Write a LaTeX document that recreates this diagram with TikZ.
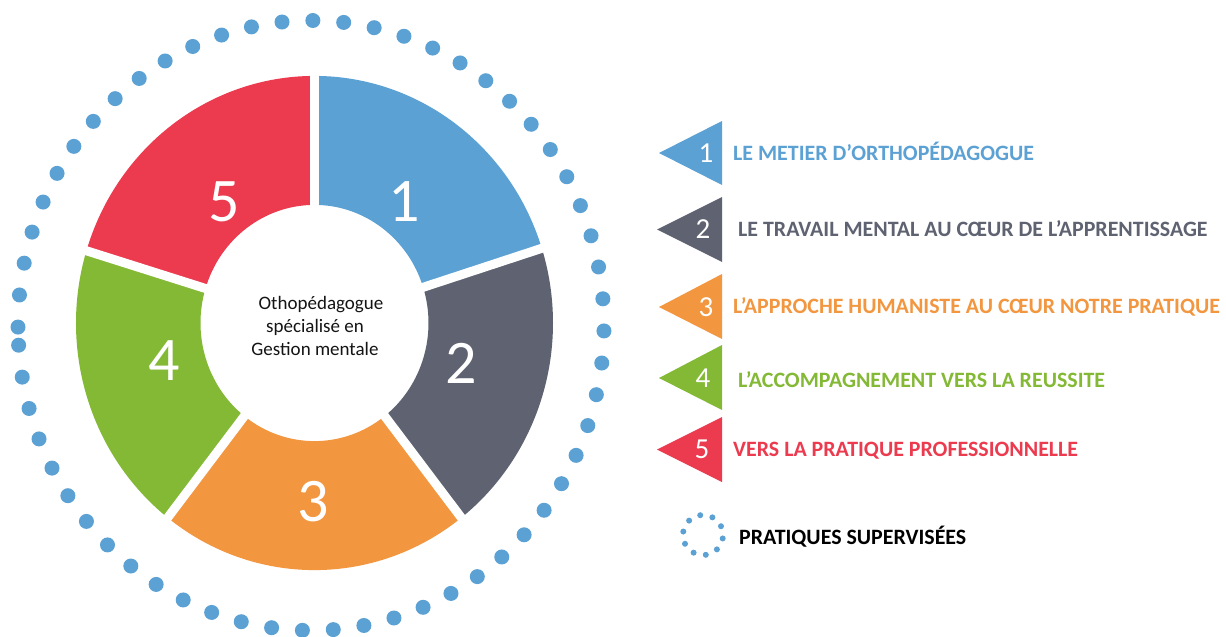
\documentclass[tikz,border=0pt]{standalone}
\usepackage{fontspec}
\setmainfont{Carlito}
\definecolor{cBlue}{RGB}{91,161,212}
\definecolor{cGray}{RGB}{94,98,113}
\definecolor{cOrange}{RGB}{242,150,64}
\definecolor{cGreen}{RGB}{132,185,53}
\definecolor{cRed}{RGB}{236,58,79}
\definecolor{cDot}{RGB}{91,161,212}
\definecolor{cText}{RGB}{20,20,20}
\def\donutseg#1#2#3{\fill[#3] (#1:114) arc[start angle=#1,end angle=#2,radius=114] -- (#2:238.5) arc[start angle=#2,end angle=#1,radius=238.5] -- cycle;}
\begin{document}
\begin{tikzpicture}[x=1pt,y=-1pt,
  segnum/.style={text=white,font=\fontsize{62}{62}\selectfont,inner sep=0pt},
  trinum/.style={text=white,font=\fontsize{29}{29}\selectfont,inner sep=0pt},
  itemtext/.style={anchor=west,font=\bfseries\fontsize{21.9}{22}\selectfont,inner sep=0pt,text height=14pt,text depth=0pt},
  ringdot/.style={fill=cDot},
  gapline/.style={draw=white,line width=9pt}
]
\useasboundingbox (0,0) rectangle (1226,637);
\fill[white] (0,0) rectangle (1226,637);

% dotted ring
\foreach \i in {0,...,59}{
  \pgfmathsetmacro\t{183.7+6.044*\i}
  \fill[ringdot] ({311+293*cos(\t)},{325.5-305*sin(\t)}) circle[radius=7.5pt];
}

% donut
\begin{scope}[shift={(314.5,323)},yscale=-1.036]
  \donutseg{17.6}{90}{cBlue}
  \donutseg{-52}{17.6}{cGray}
  \donutseg{-128}{-52}{cOrange}
  \donutseg{163}{232}{cGreen}
  \donutseg{90}{163}{cRed}
  \foreach \a in {90,17.6,-52,-128,163} \draw[gapline] (0,0) -- (\a:262);
\end{scope}

\node[align=center,font=\fontsize{19}{23}\selectfont,text=cText,inner sep=0pt] (center) at (315,326) {\hspace*{12pt}Othopédagogue\\spécialisé en\\Gestion mentale};

\node[segnum] (n1) at (404,202) {1};
\node[segnum] (n2) at (461,363) {2};
\node[segnum] (n3) at (313,502) {3};
\node[segnum] (n4) at (164,361) {4};
\node[segnum] (n5) at (224,202) {5};

% legend triangles
\fill[cBlue] (659,153) -- (722,121) -- (722,185) -- cycle;
\fill[cGray] (657,229.5) -- (722,197) -- (722,262) -- cycle;
\fill[cOrange] (659,307) -- (722,274) -- (722,339) -- cycle;
\fill[cGreen] (659,378) -- (722,345) -- (722,410) -- cycle;
\fill[cRed] (657,449.5) -- (722,417) -- (722,482) -- cycle;

\node[trinum] (k1) at (706,153) {1};
\node[trinum] (k2) at (703,229.5) {2};
\node[trinum] (k3) at (706,307) {3};
\node[trinum] (k4) at (703,378) {4};
\node[trinum] (k5) at (702,449.5) {5};

\node[itemtext,text=cBlue] (t1) at (733,153) {LE METIER D’ORTHOPÉDAGOGUE};
\node[itemtext,text=cGray] (t2) at (738,229) {LE TRAVAIL MENTAL AU CŒUR DE L’APPRENTISSAGE};
\node[itemtext,text=cOrange] (t3) at (733,306) {L’APPROCHE HUMANISTE AU CŒUR NOTRE PRATIQUE};
\node[itemtext,text=cGreen] (t4) at (738,380) {L’ACCOMPAGNEMENT VERS LA REUSSITE};
\node[itemtext,text=cRed] (t5) at (733,449) {VERS LA PRATIQUE PROFESSIONNELLE};

% legend for the dotted ring
\foreach \k in {0,...,9}
  \fill[ringdot] ({703+20*cos(98-36*\k)},{535-20*sin(98-36*\k)}) circle[radius=3pt];
\node[itemtext,text=black] (leg) at (739,537) {PRATIQUES SUPERVISÉES};
\end{tikzpicture}
\end{document}
